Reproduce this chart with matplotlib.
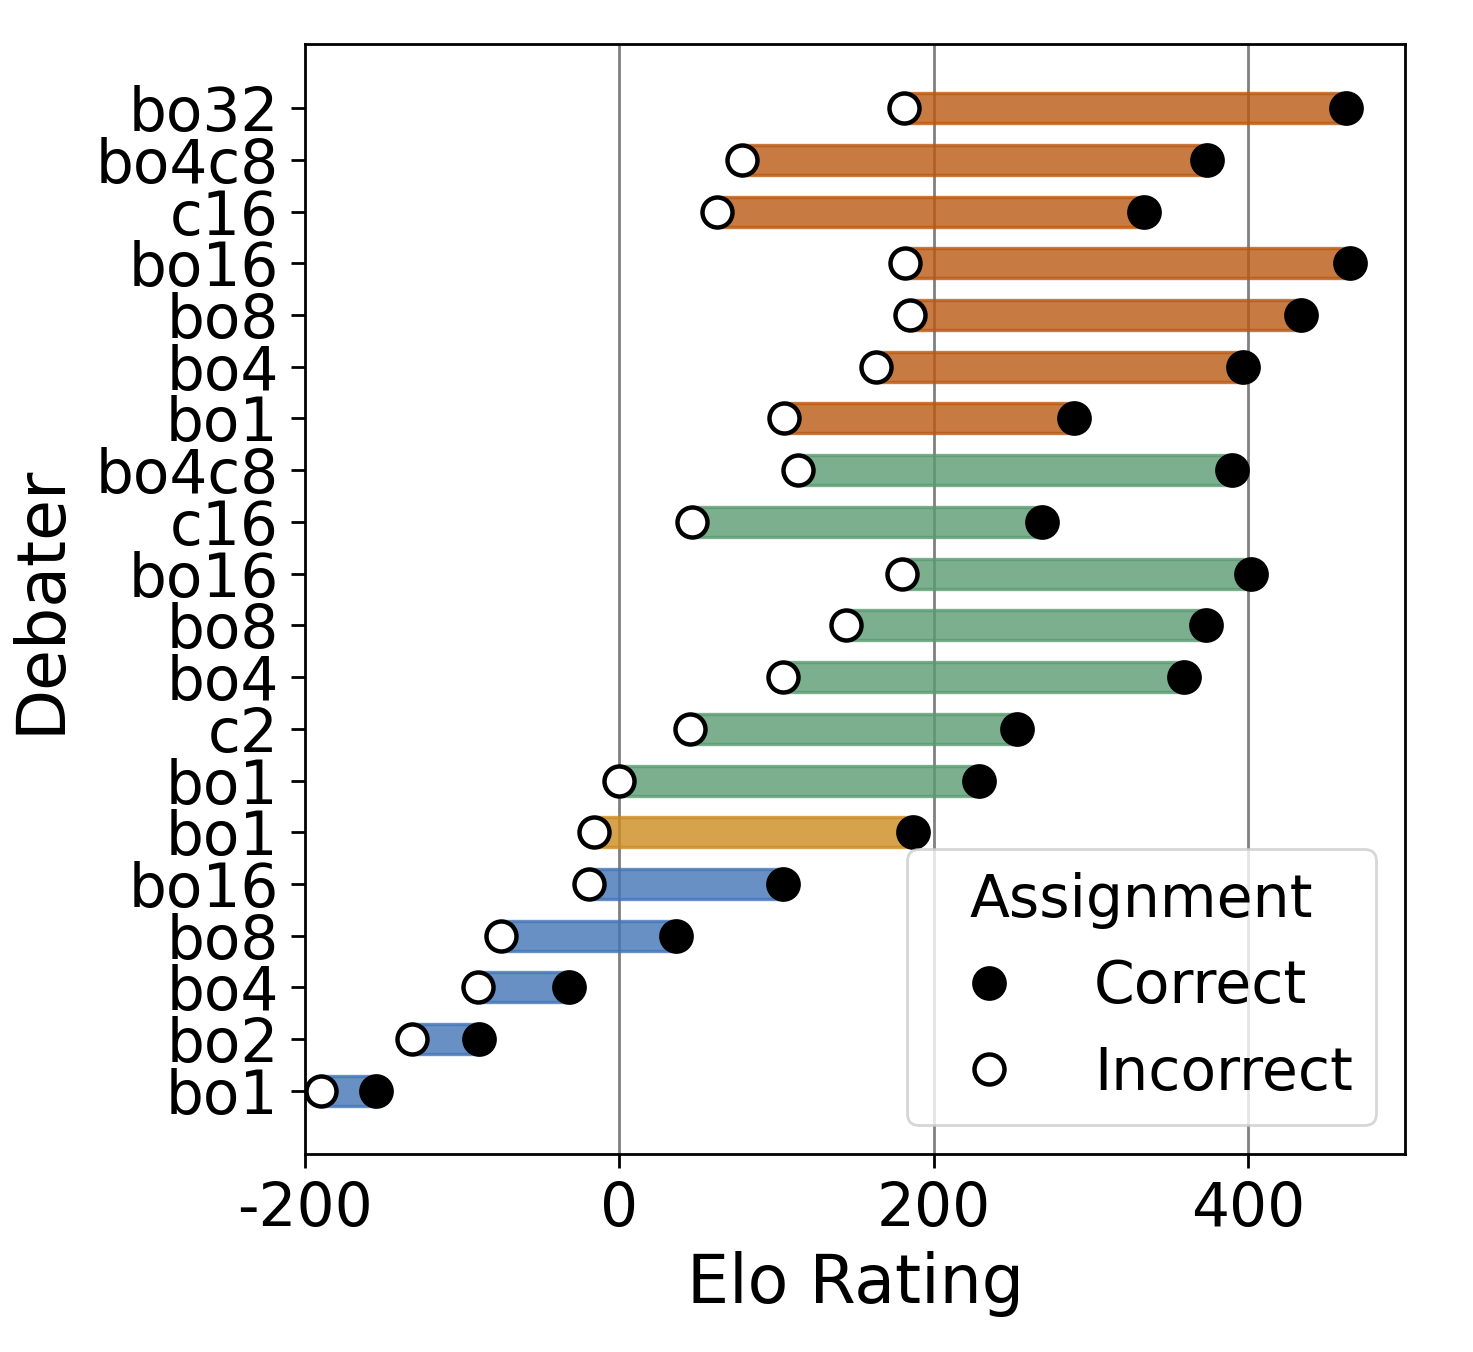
import numpy as np
import matplotlib
matplotlib.use("Agg")
import matplotlib.pyplot as plt
from matplotlib.lines import Line2D

# rows listed bottom to top
debaters = ['bo1', 'bo2', 'bo4', 'bo8', 'bo16',
            'bo1',
            'bo1', 'c2', 'bo4', 'bo8', 'bo16', 'c16', 'bo4c8',
            'bo1', 'bo4', 'bo8', 'bo16', 'c16', 'bo4c8', 'bo32']
groups = ['blue'] * 5 + ['yellow'] + ['green'] * 7 + ['orange'] * 7
elo_incorrect = [-190, -132, -90, -75, -19,
                 -16,
                 0, 45, 104, 144, 180, 46, 114,
                 105, 163, 185, 182, 62, 78, 181]
elo_correct = [-155, -89, -32, 36, 104,
               187,
               229, 253, 359, 373, 402, 269, 390,
               289, 397, 434, 465, 334, 374, 462]

group_colors = {'blue': '#4274B6', 'yellow': '#CC8B1F',
                'green': '#5A9B71', 'orange': '#BA5912'}

plt.rcParams['font.family'] = 'DejaVu Sans'

fig = plt.figure(figsize=(7.365, 6.76), dpi=200)
ax = fig.add_axes([0.207, 0.1464, 0.747, 0.8211])

y = np.arange(len(debaters))
for i in range(len(debaters)):
    lo = elo_incorrect[i]
    hi = elo_correct[i]
    ax.barh(y[i], hi - lo, left=lo, height=0.58, color=group_colors[groups[i]],
            edgecolor=group_colors[groups[i]], linewidth=1.2, alpha=0.8, zorder=2)

ax.plot(elo_correct, y, 'o', color='black', ms=11.5, mew=1.0, ls='none', zorder=3)
ax.plot(elo_incorrect, y, 'o', mfc='white', mec='black', ms=10.8, mew=1.6, ls='none', zorder=4)

for xv in [0, 200, 400]:
    ax.axvline(xv, color='gray', lw=1.0, zorder=1)

ax.set_xlim(-200, 500)
ax.set_ylim(-1.22, 20.24)
ax.set_xticks([-200, 0, 200, 400])
ax.set_xticklabels(['-200', '0', '200', '400'])
ax.set_yticks(y)
ax.set_yticklabels(debaters)
ax.tick_params(labelsize=21.5, length=5, width=1.0, pad=4.5)
for s in ax.spines.values():
    s.set_linewidth(1.0)

ax.set_xlabel('Elo Rating', fontsize=24, labelpad=4)
ax.set_ylabel('Debater', fontsize=24, labelpad=8)

handles = [Line2D([], [], marker='o', ls='none', color='black', ms=11.5),
           Line2D([], [], marker='o', ls='none', mfc='white', mec='black', ms=10.8, mew=1.6)]
ax.legend(handles, ['Correct', 'Incorrect'], title='Assignment', loc='lower right',
          fontsize=21, title_fontsize=21)

fig.savefig('out.png', dpi=200)
